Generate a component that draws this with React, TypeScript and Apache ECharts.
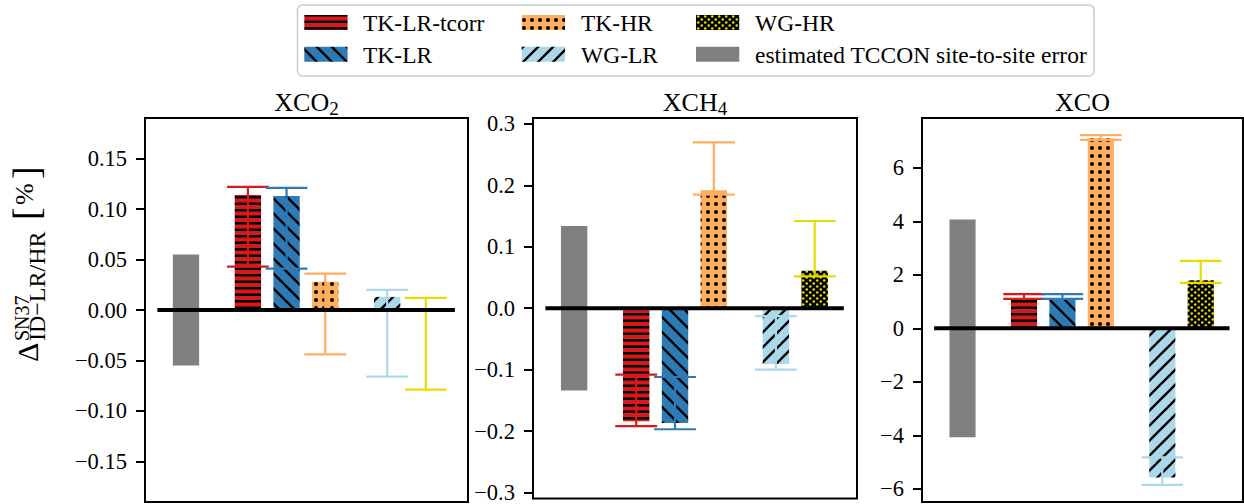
import { useEffect, useRef } from 'react';
import * as echarts from 'echarts';

// ---------------- data ----------------
const panelTitles = ['XCO', 'XCH', 'XCO'];
const panelTitleSubscripts = ['2', '4', ''];
const seriesNames = ['TK-LR-tcorr', 'TK-LR', 'TK-HR', 'WG-LR', 'WG-HR'];
const siteErrorLabel = 'estimated TCCON site-to-site error';
const seriesPositions = [1.6, 2.6, 3.6, 5.2, 6.2];
const sitePosition = 0;

const xco2SiteError = 0.055;
const xco2Values: (number | null)[] = [0.114, 0.113, 0.028, 0.013, null];
const xco2ErrLow = [0.043, 0.041, -0.044, -0.066, -0.079];
const xco2ErrHigh = [0.122, 0.121, 0.036, 0.02, 0.012];

const xch4SiteError = 0.134;
const xch4Values: (number | null)[] = [-0.184, -0.187, 0.192, -0.091, 0.061];
const xch4ErrLow = [-0.192, -0.197, 0.185, -0.1, 0.052];
const xch4ErrHigh = [-0.108, -0.112, 0.27, -0.013, 0.142];

const xcoSiteError = 4.07;
const xcoValues: (number | null)[] = [1.07, 1.1, 7.1, -5.57, 1.8];
const xcoErrLow = [1.1, 1.1, 7.04, -5.85, 1.7];
const xcoErrHigh = [1.28, 1.28, 7.22, -4.82, 2.52];

const xco2Ticks = [-0.15, -0.1, -0.05, 0, 0.05, 0.1, 0.15];
const xch4Ticks = [-0.3, -0.2, -0.1, 0, 0.1, 0.2, 0.3];
const xcoTicks = [-6, -4, -2, 0, 2, 4, 6];
const tickDecimals = [2, 1, 0];

// ---------------- styles / layout ----------------
const seriesColors = ['#d7191c', '#2c7bb6', '#fdae61', '#abd9e9', '#e6dc00'];
const siteColor = '#808080';
const FONT = 'Liberation Serif';

const grids = [
  { left: 145, top: 118, width: 323, height: 384 },
  { left: 533, top: 118, width: 324, height: 384 },
  { left: 922, top: 118, width: 321, height: 384 },
];
const yRanges = [
  [-0.1903, 0.1903],
  [-0.3097, 0.3097],
  [-6.49, 7.86],
];
const xRanges = [
  [-1.06, 7.29],
  [-1.06, 7.29],
  [-1.055, 7.3],
];
const zeroLineExtent = [-0.74, 6.95];
const BAR_HALF = 0.34;
const CAP_HALF = 0.54;

function tile(w: number, h: number, draw: (ctx: CanvasRenderingContext2D) => void) {
  const c = document.createElement('canvas');
  c.width = w;
  c.height = h;
  const ctx = c.getContext('2d') as CanvasRenderingContext2D;
  draw(ctx);
  return { image: c, repeat: 'repeat', imageWidth: w, imageHeight: h } as any;
}

function makePatterns() {
  const red = tile(10, 13, (ctx) => {
    ctx.fillStyle = seriesColors[0];
    ctx.fillRect(0, 0, 10, 13);
    ctx.fillStyle = '#000';
    ctx.fillRect(0, 1, 10, 2.5);
    ctx.fillRect(0, 7.5, 10, 2.5);
  });
  const D = 15;
  const blue = tile(D, D, (ctx) => {
    ctx.fillStyle = seriesColors[1];
    ctx.fillRect(0, 0, D, D);
    ctx.strokeStyle = '#000';
    ctx.lineWidth = 2.4;
    for (const k of [-D, 0, D]) {
      ctx.beginPath();
      ctx.moveTo(k - 3, -3);
      ctx.lineTo(k + D + 3, D + 3);
      ctx.stroke();
    }
  });
  const orange = tile(8, 8, (ctx) => {
    ctx.fillStyle = seriesColors[2];
    ctx.fillRect(0, 0, 8, 8);
    ctx.fillStyle = '#000';
    ctx.beginPath();
    ctx.arc(4, 4, 2, 0, Math.PI * 2);
    ctx.fill();
  });
  const light = tile(D, D, (ctx) => {
    ctx.fillStyle = seriesColors[3];
    ctx.fillRect(0, 0, D, D);
    ctx.strokeStyle = '#000';
    ctx.lineWidth = 2.4;
    for (const k of [0, D, 2 * D]) {
      ctx.beginPath();
      ctx.moveTo(k + 3, -3);
      ctx.lineTo(k - D - 3, D + 3);
      ctx.stroke();
    }
  });
  const yellow = tile(7, 6, (ctx) => {
    ctx.fillStyle = '#000';
    ctx.fillRect(0, 0, 7, 6);
    ctx.fillStyle = seriesColors[4];
    ctx.beginPath();
    ctx.arc(1.75, 1.5, 1.3, 0, Math.PI * 2);
    ctx.fill();
    ctx.beginPath();
    ctx.arc(5.25, 4.5, 1.3, 0, Math.PI * 2);
    ctx.fill();
  });
  return [red, blue, orange, light, yellow, siteColor];
}

function textEl(text: string, x: number, y: number, size: number, align: string) {
  return {
    type: 'text',
    x,
    y,
    z: 11,
    style: {
      text,
      fontSize: size,
      fontFamily: FONT,
      fill: '#000',
      align,
      verticalAlign: 'middle',
      textAlign: align,
      textVerticalAlign: 'middle',
    },
  };
}

export default function App() {
  const ref = useRef<HTMLDivElement>(null);

  useEffect(() => {
    if (!ref.current) return;
    const chart = echarts.init(ref.current, null, { renderer: 'svg' });
    const patterns = makePatterns();

    const panels = [
      { site: xco2SiteError, values: xco2Values, lo: xco2ErrLow, hi: xco2ErrHigh },
      { site: xch4SiteError, values: xch4Values, lo: xch4ErrLow, hi: xch4ErrHigh },
      { site: xcoSiteError, values: xcoValues, lo: xcoErrLow, hi: xcoErrHigh },
    ];
    const tickSets = [xco2Ticks, xch4Ticks, xcoTicks];

    const series: any[] = [];
    panels.forEach((p, i) => {
      const barData: any[] = [[sitePosition, -p.site, p.site, 5]];
      p.values.forEach((v, k) => {
        if (v == null) return;
        barData.push([seriesPositions[k], Math.min(0, v), Math.max(0, v), k]);
      });
      series.push({
        type: 'custom',
        xAxisIndex: i,
        yAxisIndex: i,
        z: 2,
        encode: { x: 0, y: [1, 2] },
        data: barData,
        renderItem: (_params: any, api: any) => {
          const x = api.value(0);
          const a = api.coord([x - BAR_HALF, api.value(2)]);
          const b = api.coord([x + BAR_HALF, api.value(1)]);
          return {
            type: 'rect',
            shape: { x: a[0], y: a[1], width: b[0] - a[0], height: b[1] - a[1] },
            style: { fill: patterns[api.value(3)] },
          };
        },
      });
      const errData = p.lo.map((l, k) => [seriesPositions[k], l, p.hi[k], k]);
      series.push({
        type: 'custom',
        xAxisIndex: i,
        yAxisIndex: i,
        z: 3,
        encode: { x: 0, y: [1, 2] },
        data: errData,
        renderItem: (_params: any, api: any) => {
          const x = api.value(0);
          const top = api.coord([x, api.value(2)]);
          const bot = api.coord([x, api.value(1)]);
          const l = api.coord([x - CAP_HALF, api.value(2)])[0];
          const r = api.coord([x + CAP_HALF, api.value(2)])[0];
          const st = { stroke: seriesColors[api.value(3)], lineWidth: 2.2 };
          return {
            type: 'group',
            children: [
              { type: 'line', shape: { x1: top[0], y1: top[1], x2: bot[0], y2: bot[1] }, style: st },
              { type: 'line', shape: { x1: l, y1: top[1], x2: r, y2: top[1] }, style: st },
              { type: 'line', shape: { x1: l, y1: bot[1], x2: r, y2: bot[1] }, style: st },
            ],
          };
        },
      });
      series.push({
        type: 'line',
        xAxisIndex: i,
        yAxisIndex: i,
        z: 5,
        symbol: 'none',
        silent: true,
        lineStyle: { color: '#000', width: 4 },
        data: [
          [zeroLineExtent[0], 0],
          [zeroLineExtent[1], 0],
        ],
      });
    });

    const graphic: any[] = [];
    // legend box
    graphic.push({
      type: 'rect',
      shape: { x: 297.5, y: 5, width: 796.5, height: 71, r: 5 },
      style: { fill: '#fff', stroke: '#cccccc', lineWidth: 1.5 },
      z: 10,
    });
    const legendItems = [
      { label: seriesNames[0], fill: patterns[0] },
      { label: seriesNames[1], fill: patterns[1] },
      { label: seriesNames[2], fill: patterns[2] },
      { label: seriesNames[3], fill: patterns[3] },
      { label: seriesNames[4], fill: patterns[4] },
      { label: siteErrorLabel, fill: patterns[5] },
    ];
    const colPatch = [304.3, 521.7, 696];
    const colText = [363, 581, 755];
    const rowPatch = [15, 46.7];
    const rowText = [23, 54.7];
    legendItems.forEach((it, idx) => {
      const col = Math.floor(idx / 2);
      const row = idx % 2;
      graphic.push({
        type: 'rect',
        shape: { x: colPatch[col], y: rowPatch[row], width: 43.3, height: 15 },
        style: { fill: it.fill },
        z: 11,
      });
      graphic.push(textEl(it.label, colText[col], rowText[row], 23.5, 'left'));
    });
    // panel titles
    grids.forEach((g, i) => {
      const sub = panelTitleSubscripts[i];
      graphic.push({
        type: 'text',
        x: g.left + g.width / 2,
        y: 102.9,
        z: 11,
        style: {
          text: sub ? `{m|${panelTitles[i]}}{s|${sub}}` : `{m|${panelTitles[i]}}`,
          align: 'center',
          verticalAlign: 'middle',
          textAlign: 'center',
          textVerticalAlign: 'middle',
          fill: '#000',
          rich: {
            m: { fontSize: 26, fontFamily: FONT, lineHeight: 30, fill: '#000' },
            s: { fontSize: 19, fontFamily: FONT, lineHeight: 16, verticalAlign: 'bottom', fill: '#000' },
          },
        },
      });
    });
    // y axis label (rotated)
    graphic.push({
      type: 'group',
      x: 0,
      y: 504,
      rotation: Math.PI / 2,
      z: 11,
      children: [
        textEl('Δ', 142, 27.5, 30, 'left'),
        textEl('SN37', 163, 21.5, 20, 'left'),
        textEl('ID−LR/HR', 163, 37, 24, 'left'),
        textEl('[', 284, 25.8, 38, 'left'),
        textEl('%', 299, 24.5, 26, 'left'),
        textEl(']', 325, 25.8, 38, 'left'),
      ],
    });

    const option: any = {
      animation: false,
      backgroundColor: '#fff',
      textStyle: { fontFamily: FONT },
      grid: grids.map((g) => ({
        ...g,
        show: true,
        borderColor: '#000',
        borderWidth: 2,
        backgroundColor: 'transparent',
        containLabel: false,
      })),
      xAxis: grids.map((_g, i) => ({
        type: 'value',
        gridIndex: i,
        min: xRanges[i][0],
        max: xRanges[i][1],
        show: false,
      })),
      yAxis: grids.map((_g, i) => ({
        type: 'value',
        gridIndex: i,
        min: yRanges[i][0],
        max: yRanges[i][1],
        axisLine: { show: true, onZero: false, lineStyle: { color: '#000', width: 2 } },
        axisTick: {
          show: true,
          length: 9,
          lineStyle: { color: '#000', width: 2 },
          customValues: tickSets[i],
        },
        axisLabel: {
          show: true,
          margin: 18,
          color: '#000',
          fontSize: 22.5,
          fontFamily: FONT,
          customValues: tickSets[i],
          formatter: (v: number) => v.toFixed(tickDecimals[i]).replace('-', '\u2212'),
        },
        splitLine: { show: false },
      })),
      series,
      graphic,
    };
    chart.setOption(option);
    return () => chart.dispose();
  }, []);

  return (
    <div
      ref={ref}
      style={{ position: 'absolute', left: 0, top: 0, width: 1244, height: 504, background: '#fff' }}
    />
  );
}
